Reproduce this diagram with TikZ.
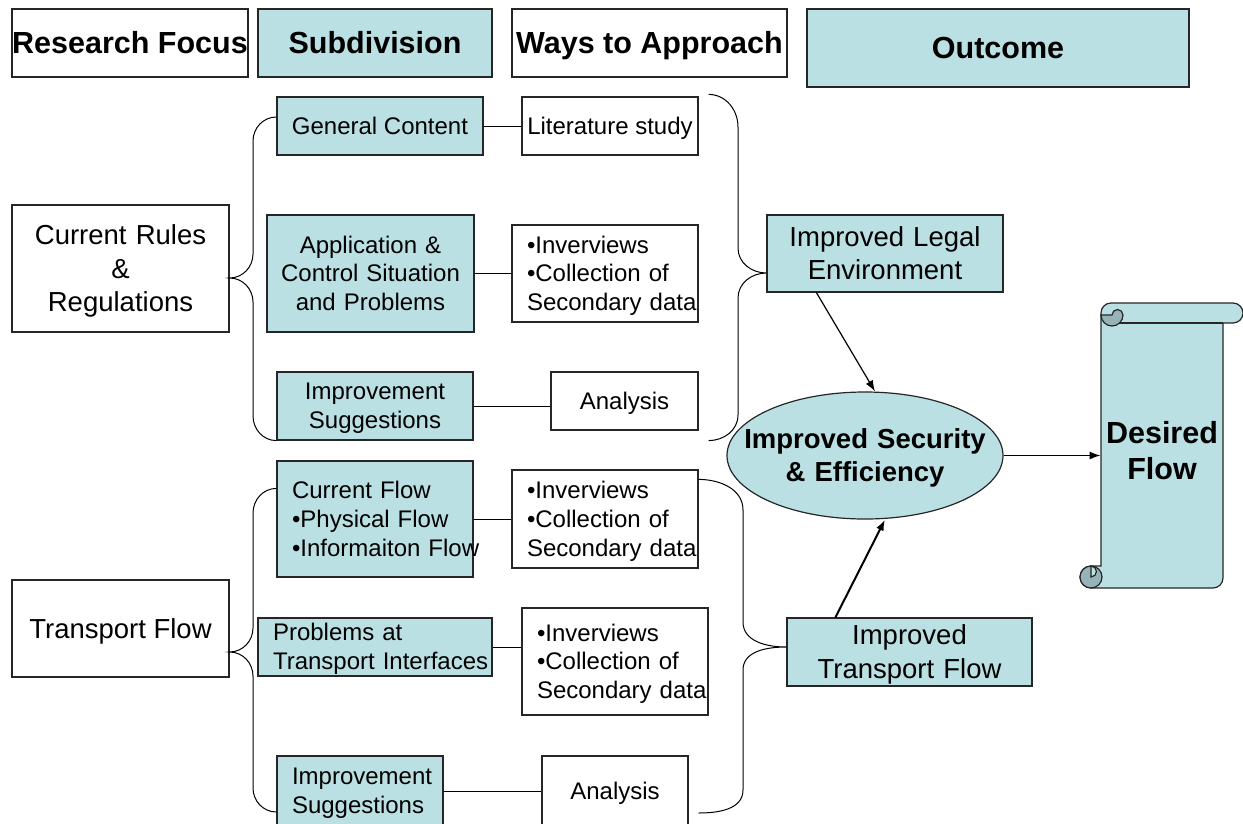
\documentclass[tikz,border=0pt]{standalone}
\usepackage{fontspec}
\setmainfont{Liberation Sans}
\usetikzlibrary{shapes.geometric,arrows.meta}
\definecolor{pptblue}{RGB}{187,224,227}
\definecolor{rolldark}{RGB}{150,180,183}
\newcommand{\hdrsize}{\fontsize{30.5}{35.5}\selectfont\bfseries}
\newcommand{\bigsize}{\fontsize{27.5}{33.2}\selectfont}
\newcommand{\smlsize}{\fontsize{24}{28.8}\selectfont}

\begin{document}
\begin{tikzpicture}
[x=1pt, y=1pt, line width=1pt, >={Latex[length=11pt,width=8pt]},
pptext/.style={execute at begin node={\rule{0pt}{0.905em}}, execute at end node={\rule[-0.212em]{0pt}{0pt}}},
box/.style={draw=black!85, line width=1.2pt, inner sep=0pt, align=center, pptext},
bluebox/.style={box, fill=pptblue},
leftbox/.style={align=left, inner xsep=15pt},
brace/.style={line width=1pt}]
\useasboundingbox (0,0) rectangle (1243,-823);
\node [box, minimum width=236pt, minimum height=68pt, font=\hdrsize] (rf) at (130,-43) {Research Focus};
\node [bluebox, minimum width=234pt, minimum height=68pt, font=\hdrsize] (sd) at (375,-43) {Subdivision};
\node [box, minimum width=275pt, minimum height=68pt, font=\hdrsize] (wa) at (649.5,-43) {Ways to Approach};
\node [bluebox, minimum width=382pt, minimum height=78pt, font=\hdrsize] (oc) at (998,-48) {Outcome};
\node [box, text width=217pt, minimum height=127pt, font=\bigsize] (crr) at (120.5,-268.5) {Current Rules\\\&\\Regulations};
\node [box, minimum width=217pt, minimum height=97pt, font=\bigsize] (tf) at (120.5,-628.5) {Transport Flow};
\node [bluebox, minimum width=206pt, minimum height=58pt, font=\smlsize] (gc) at (380,-126) {General Content};
\node [bluebox, text width=207pt, minimum height=117pt, font=\smlsize] (acs) at (370.5,-273.5) {Application \&\\Control Situation\\and Problems};
\node [bluebox, text width=196pt, minimum height=68pt, font=\smlsize] (is1) at (375,-406) {Improvement\\Suggestions};
\node [bluebox, leftbox, text width=166pt, minimum height=116pt, font=\smlsize] (cf) at (375,-519) {Current Flow\\•Physical Flow\\\mbox{•Informaiton Flow}};
\node [bluebox, leftbox, text width=204pt, minimum height=58pt, font=\smlsize] (pti) at (375,-647) {Problems at\\\mbox{Transport Interfaces}};
\node [bluebox, leftbox, text width=136pt, minimum height=70pt, font=\smlsize] (is2) at (360,-791) {\mbox{Improvement}\\Suggestions};
\node [box, minimum width=176pt, minimum height=58pt, font=\smlsize] (ls) at (610,-126) {Literature study};
\node [box, leftbox, text width=156pt, minimum height=97pt, font=\smlsize] (iv1) at (605,-273.5) {•Inverviews\\•Collection of\\\mbox{Secondary data}};
\node [box, minimum width=147pt, minimum height=58pt, font=\smlsize] (an1) at (624.5,-401) {Analysis};
\node [box, leftbox, text width=156pt, minimum height=98pt, font=\smlsize] (iv2) at (605,-519) {•Inverviews\\•Collection of\\\mbox{Secondary data}};
\node [box, leftbox, text width=156pt, minimum height=107pt, font=\smlsize] (iv3) at (615,-661.5) {•Inverviews\\•Collection of\\\mbox{Secondary data}};
\node [box, minimum width=146pt, minimum height=70pt, font=\smlsize] (an2) at (615,-791) {Analysis};
\node [bluebox, text width=236pt, minimum height=77pt, font=\bigsize] (ile) at (885,-253.5) {Improved Legal\\Environment};
\node [bluebox, text width=245pt, minimum height=68pt, font=\bigsize] (it) at (909.5,-652) {Improved\\Transport Flow};
\node [ellipse, draw=black!85, fill=pptblue, line width=1.2pt, minimum width=276pt, minimum height=127pt, inner sep=0pt, text width=0pt, align=center, pptext, font=\bigsize\bfseries] (ise) at (865,-455.5) {\makebox[0pt]{Improved Security}\\\makebox[0pt]{\& Efficiency}};
\draw [line width=1.2pt, draw=black!85, fill=pptblue] (1101,-313) arc [start angle=180, end angle=90, radius=10] -- (1233,-303) arc [start angle=90, end angle=-90, radius=10] -- (1223,-323) -- (1223,-578) arc [start angle=0, end angle=-90, radius=10] -- (1091,-588) arc [start angle=-90, end angle=-270, radius=11] -- (1101,-566) -- cycle;
\draw [line width=1.2pt, draw=black!85] (1112,-323) -- (1223,-323);
\draw [line width=1.2pt, draw=black!85, fill=rolldark] (1101,-315) arc [start angle=180, end angle=360, radius=11] arc [start angle=0, end angle=180, radius=5.5] -- cycle;
\draw [line width=1.2pt, draw=black!85, fill=rolldark] (1091,-577) circle [radius=11];
\draw [line width=1.2pt, draw=black!85, fill=pptblue] (1091,-566) arc [start angle=90, end angle=-90, radius=5.5] -- cycle;
\node [text width=122pt, minimum height=260pt, inner sep=0pt, align=center, pptext, font=\hdrsize] (df) at (1162,-451) {Desired\\Flow};
\draw (gc.east) -- (ls.west);
\draw (acs.east) -- (iv1.west);
\draw (is1.east) -- (is1.east -| an1.west);
\draw (cf.east) -- (iv2.west);
\draw (pti.east) -- (pti.east -| iv3.west);
\draw (is2.east) -- (is2.east -| an2.west);
\draw [brace] ([yshift=9pt]gc.west) to [out=180, in=90] (253,-141) -- (253,-254) to [out=-90, in=0] ([yshift=-9.5pt]crr.east) to [out=0, in=90] (253,-302) -- (253,-416) to [out=-90, in=180] (is1.south west);
\draw [brace] ([yshift=-28pt]cf.north west) to [out=180, in=90] (253,-513) -- (253,-628) to [out=-90, in=0] ([yshift=-23.5pt]tf.east) to [out=0, in=90] (253,-676) -- (253,-788) to [out=-90, in=180] ([yshift=-21pt]is2.west);
\draw [brace] ([shift={(10pt,2pt)}]ls.north east) to [out=0, in=90] (738,-127) -- (738,-248) to [out=-90, in=180] ([yshift=-19.5pt]ile.west) to [out=180, in=90] (738,-298) -- (738,-415) to [out=-90, in=0] ([shift={(10pt,-10pt)}]an1.south east);
\draw [brace] ([yshift=-10pt]iv2.north east) to [out=0, in=90] (743,-510) -- (743,-622) to [out=-90, in=180] ([yshift=5pt]it.west) to [out=180, in=90] (743,-670) -- (743,-790) to [out=-90, in=0] ([shift={(10pt,-22pt)}]an2.east);
\draw [->, line width=1.2pt] ([xshift=50pt]ile.south west) -- ([xshift=10pt]ise.north);
\draw [->, line width=2pt] ([xshift=49pt]it.north west) -- ([xshift=20pt]ise.south);
\draw [->, line width=1.2pt] (ise.east) -- (ise.east -| df.west);
\end{tikzpicture}
\end{document}
